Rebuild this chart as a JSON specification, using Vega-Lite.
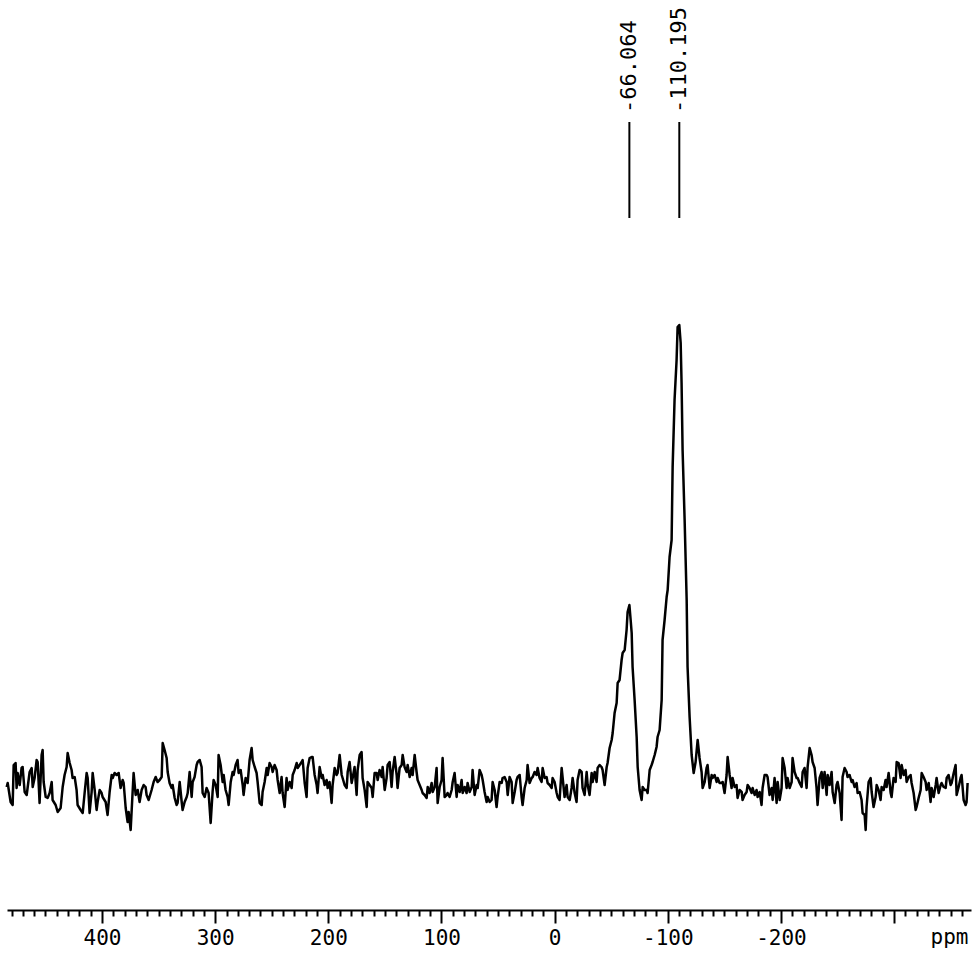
{
"$schema":"https://vega.github.io/schema/vega-lite/v6.json",
"width":964,"height":910,
"autosize":{"type":"none"},
"padding":{"left":7,"top":0,"right":8,"bottom":45},
"background":"white",
"config":{"view":{"stroke":null}},
"datasets":{
"spec":[
{"p":484.3,"i":3},{"p":483.4,"i":7},{"p":480.8,"i":-12},{"p":479.0,"i":-15},{"p":478.1,"i":25},{"p":476.4,"i":27},{"p":475.5,"i":2},{"p":474.6,"i":17},{"p":472.8,"i":5},{"p":471.1,"i":22},{"p":470.2,"i":23},{"p":468.4,"i":-2},{"p":466.6,"i":-5},{"p":465.8,"i":2},{"p":464.0,"i":18},{"p":462.2,"i":22},{"p":461.3,"i":3},{"p":459.6,"i":12},{"p":457.8,"i":30},{"p":456.9,"i":28},{"p":455.2,"i":-13},{"p":453.4,"i":35},{"p":452.5,"i":40},{"p":451.6,"i":8},{"p":449.8,"i":-7},{"p":448.1,"i":-8},{"p":446.3,"i":-3},{"p":444.5,"i":8},{"p":443.7,"i":-10},{"p":441.0,"i":-15},{"p":439.2,"i":-22},{"p":436.6,"i":-18},{"p":434.8,"i":3},{"p":433.1,"i":15},{"p":431.3,"i":23},{"p":430.4,"i":37},{"p":428.6,"i":27},{"p":426.9,"i":20},{"p":426.0,"i":12},{"p":424.2,"i":13},{"p":422.5,"i":0},{"p":421.6,"i":-15},{"p":418.9,"i":-20},{"p":417.1,"i":-23},{"p":415.4,"i":-3},{"p":413.6,"i":17},{"p":412.7,"i":12},{"p":411.0,"i":-23},{"p":409.2,"i":-2},{"p":408.3,"i":17},{"p":406.5,"i":0},{"p":404.8,"i":-20},{"p":403.9,"i":-12},{"p":402.1,"i":0},{"p":400.4,"i":-3},{"p":399.5,"i":-7},{"p":396.8,"i":-12},{"p":395.1,"i":-25},{"p":393.3,"i":-2},{"p":391.5,"i":15},{"p":390.6,"i":12},{"p":388.9,"i":17},{"p":387.1,"i":15},{"p":385.3,"i":17},{"p":383.6,"i":2},{"p":381.8,"i":10},{"p":380.9,"i":7},{"p":379.1,"i":-18},{"p":377.4,"i":-32},{"p":376.5,"i":-22},{"p":374.7,"i":-40},{"p":373.8,"i":-20},{"p":372.1,"i":17},{"p":370.3,"i":-5},{"p":368.5,"i":0},{"p":366.8,"i":-12},{"p":365.0,"i":0},{"p":363.2,"i":5},{"p":361.5,"i":3},{"p":360.6,"i":-5},{"p":358.8,"i":-10},{"p":356.2,"i":0},{"p":354.4,"i":8},{"p":352.6,"i":13},{"p":350.9,"i":8},{"p":349.1,"i":10},{"p":347.3,"i":13},{"p":346.4,"i":47},{"p":344.7,"i":40},{"p":342.9,"i":32},{"p":342.0,"i":18},{"p":340.3,"i":7},{"p":338.5,"i":2},{"p":337.6,"i":5},{"p":335.8,"i":-8},{"p":334.1,"i":-15},{"p":333.2,"i":-13},{"p":331.4,"i":8},{"p":329.6,"i":-12},{"p":328.8,"i":-20},{"p":327.0,"i":-12},{"p":325.2,"i":-7},{"p":324.3,"i":-3},{"p":322.6,"i":18},{"p":320.8,"i":-7},{"p":319.9,"i":8},{"p":318.2,"i":13},{"p":316.4,"i":25},{"p":315.5,"i":28},{"p":313.7,"i":30},{"p":312.0,"i":23},{"p":311.1,"i":-3},{"p":309.3,"i":-7},{"p":307.6,"i":2},{"p":305.8,"i":-3},{"p":304.0,"i":-33},{"p":302.3,"i":-2},{"p":301.4,"i":10},{"p":299.6,"i":5},{"p":297.8,"i":-7},{"p":297.0,"i":35},{"p":295.2,"i":25},{"p":293.4,"i":8},{"p":292.5,"i":15},{"p":290.8,"i":0},{"p":289.0,"i":-7},{"p":288.1,"i":-15},{"p":286.3,"i":8},{"p":284.6,"i":18},{"p":283.7,"i":15},{"p":281.9,"i":25},{"p":280.2,"i":30},{"p":279.3,"i":17},{"p":277.5,"i":20},{"p":275.7,"i":5},{"p":274.9,"i":-5},{"p":273.1,"i":12},{"p":271.3,"i":7},{"p":269.6,"i":30},{"p":267.8,"i":42},{"p":266.9,"i":30},{"p":265.1,"i":23},{"p":263.4,"i":17},{"p":262.5,"i":8},{"p":260.7,"i":-13},{"p":258.9,"i":-15},{"p":258.1,"i":-2},{"p":256.3,"i":8},{"p":254.5,"i":22},{"p":253.6,"i":15},{"p":251.9,"i":27},{"p":250.1,"i":23},{"p":249.2,"i":18},{"p":247.5,"i":25},{"p":245.7,"i":20},{"p":244.8,"i":10},{"p":243.0,"i":-3},{"p":241.3,"i":13},{"p":240.4,"i":-3},{"p":238.6,"i":-17},{"p":236.9,"i":12},{"p":236.0,"i":0},{"p":234.2,"i":8},{"p":232.4,"i":2},{"p":231.5,"i":15},{"p":229.8,"i":20},{"p":228.0,"i":27},{"p":227.1,"i":22},{"p":225.4,"i":25},{"p":223.6,"i":28},{"p":222.7,"i":30},{"p":220.9,"i":7},{"p":219.2,"i":-7},{"p":218.3,"i":22},{"p":216.5,"i":32},{"p":214.8,"i":33},{"p":213.9,"i":33},{"p":212.1,"i":15},{"p":210.3,"i":5},{"p":209.5,"i":-3},{"p":207.7,"i":23},{"p":205.9,"i":12},{"p":205.0,"i":15},{"p":203.3,"i":5},{"p":201.5,"i":10},{"p":200.6,"i":2},{"p":198.9,"i":8},{"p":197.1,"i":-13},{"p":196.2,"i":5},{"p":194.4,"i":22},{"p":192.7,"i":15},{"p":191.8,"i":17},{"p":190.0,"i":35},{"p":188.2,"i":15},{"p":187.4,"i":12},{"p":185.6,"i":5},{"p":183.8,"i":2},{"p":182.9,"i":18},{"p":181.2,"i":28},{"p":179.4,"i":7},{"p":178.5,"i":12},{"p":176.8,"i":23},{"p":175.0,"i":-5},{"p":174.1,"i":20},{"p":172.3,"i":35},{"p":170.6,"i":38},{"p":169.7,"i":12},{"p":167.9,"i":0},{"p":166.1,"i":-17},{"p":165.3,"i":8},{"p":163.5,"i":5},{"p":161.7,"i":2},{"p":160.8,"i":-7},{"p":159.1,"i":17},{"p":157.3,"i":17},{"p":156.4,"i":10},{"p":154.7,"i":20},{"p":152.9,"i":13},{"p":152.0,"i":23},{"p":150.2,"i":0},{"p":148.5,"i":12},{"p":147.6,"i":25},{"p":145.8,"i":28},{"p":144.1,"i":3},{"p":143.2,"i":18},{"p":141.4,"i":33},{"p":139.6,"i":15},{"p":138.8,"i":2},{"p":137.0,"i":22},{"p":135.2,"i":25},{"p":134.3,"i":35},{"p":132.6,"i":23},{"p":130.8,"i":18},{"p":129.9,"i":25},{"p":128.1,"i":13},{"p":126.4,"i":22},{"p":125.5,"i":15},{"p":123.7,"i":35},{"p":122.0,"i":18},{"p":121.1,"i":10},{"p":119.3,"i":5},{"p":117.5,"i":0},{"p":116.7,"i":-3},{"p":114.9,"i":-5},{"p":113.1,"i":-8},{"p":112.2,"i":3},{"p":110.5,"i":-3},{"p":108.7,"i":7},{"p":107.8,"i":-2},{"p":106.0,"i":3},{"p":104.3,"i":22},{"p":103.4,"i":-13},{"p":101.6,"i":3},{"p":99.9,"i":10},{"p":99.0,"i":32},{"p":97.2,"i":-7},{"p":95.4,"i":-5},{"p":94.6,"i":-3},{"p":92.8,"i":-7},{"p":91.0,"i":0},{"p":90.1,"i":8},{"p":88.4,"i":17},{"p":86.6,"i":-7},{"p":85.7,"i":5},{"p":83.9,"i":-2},{"p":82.2,"i":10},{"p":81.3,"i":-3},{"p":79.5,"i":3},{"p":77.8,"i":-3},{"p":76.9,"i":7},{"p":75.1,"i":-2},{"p":73.3,"i":3},{"p":72.5,"i":20},{"p":70.7,"i":-5},{"p":68.9,"i":5},{"p":68.0,"i":2},{"p":66.3,"i":20},{"p":64.5,"i":15},{"p":63.6,"i":10},{"p":61.9,"i":-2},{"p":60.1,"i":-12},{"p":59.2,"i":-7},{"p":57.4,"i":-12},{"p":55.7,"i":-10},{"p":54.8,"i":8},{"p":53.0,"i":0},{"p":51.3,"i":-17},{"p":50.4,"i":-7},{"p":48.6,"i":8},{"p":46.8,"i":7},{"p":46.0,"i":12},{"p":44.2,"i":13},{"p":42.4,"i":8},{"p":41.5,"i":-5},{"p":39.8,"i":13},{"p":38.0,"i":8},{"p":37.1,"i":-13},{"p":35.3,"i":-2},{"p":33.6,"i":10},{"p":32.7,"i":13},{"p":30.9,"i":15},{"p":29.2,"i":-7},{"p":28.3,"i":-15},{"p":26.5,"i":2},{"p":24.7,"i":10},{"p":23.9,"i":25},{"p":22.1,"i":7},{"p":20.3,"i":12},{"p":19.4,"i":13},{"p":17.7,"i":18},{"p":15.9,"i":15},{"p":15.0,"i":22},{"p":13.3,"i":12},{"p":11.5,"i":8},{"p":10.6,"i":22},{"p":8.8,"i":12},{"p":7.1,"i":13},{"p":6.2,"i":7},{"p":4.4,"i":5},{"p":2.6,"i":2},{"p":1.8,"i":12},{"p":0.0,"i":8},{"p":-1.8,"i":-3},{"p":-2.7,"i":-7},{"p":-4.4,"i":-10},{"p":-6.2,"i":22},{"p":-7.1,"i":12},{"p":-8.8,"i":-7},{"p":-10.6,"i":5},{"p":-11.5,"i":-7},{"p":-13.3,"i":-10},{"p":-15.0,"i":2},{"p":-15.9,"i":12},{"p":-17.7,"i":-3},{"p":-19.4,"i":-12},{"p":-20.3,"i":10},{"p":-22.1,"i":20},{"p":-23.9,"i":18},{"p":-24.7,"i":2},{"p":-26.5,"i":-5},{"p":-28.3,"i":18},{"p":-29.2,"i":5},{"p":-30.9,"i":-5},{"p":-32.7,"i":17},{"p":-33.6,"i":8},{"p":-35.4,"i":18},{"p":-37.1,"i":8},{"p":-38.0,"i":22},{"p":-39.8,"i":25},{"p":-41.5,"i":23},{"p":-42.4,"i":20},{"p":-44.2,"i":5},{"p":-46.0,"i":23},{"p":-46.8,"i":27},{"p":-48.6,"i":42},{"p":-50.4,"i":50},{"p":-51.3,"i":57},{"p":-53.0,"i":77},{"p":-54.8,"i":87},{"p":-55.7,"i":107},{"p":-57.4,"i":110},{"p":-59.2,"i":130},{"p":-60.1,"i":137},{"p":-61.9,"i":140},{"p":-63.6,"i":160},{"p":-64.5,"i":178},{"p":-66.1,"i":185},{"p":-67.2,"i":170},{"p":-68.1,"i":157},{"p":-68.9,"i":123},{"p":-70.7,"i":90},{"p":-72.5,"i":53},{"p":-73.4,"i":23},{"p":-75.1,"i":0},{"p":-76.9,"i":-10},{"p":-77.8,"i":3},{"p":-79.5,"i":0},{"p":-81.3,"i":0},{"p":-82.2,"i":-3},{"p":-84.0,"i":20},{"p":-85.7,"i":25},{"p":-86.6,"i":28},{"p":-88.4,"i":35},{"p":-90.1,"i":43},{"p":-91.0,"i":53},{"p":-92.8,"i":60},{"p":-94.6,"i":90},{"p":-95.4,"i":150},{"p":-97.2,"i":170},{"p":-99.0,"i":193},{"p":-99.9,"i":200},{"p":-101.6,"i":233},{"p":-103.4,"i":250},{"p":-104.3,"i":323},{"p":-106.0,"i":390},{"p":-107.8,"i":430},{"p":-108.7,"i":463},{"p":-110.2,"i":465},{"p":-111.4,"i":447},{"p":-112.2,"i":407},{"p":-113.1,"i":340},{"p":-114.9,"i":270},{"p":-116.7,"i":190},{"p":-117.5,"i":123},{"p":-119.3,"i":73},{"p":-121.1,"i":35},{"p":-122.9,"i":17},{"p":-124.6,"i":28},{"p":-126.4,"i":50},{"p":-128.1,"i":32},{"p":-129.9,"i":18},{"p":-130.8,"i":2},{"p":-132.6,"i":8},{"p":-134.3,"i":22},{"p":-135.2,"i":25},{"p":-137.0,"i":2},{"p":-138.8,"i":15},{"p":-139.6,"i":12},{"p":-141.4,"i":15},{"p":-143.2,"i":8},{"p":-144.1,"i":12},{"p":-145.8,"i":7},{"p":-147.6,"i":7},{"p":-148.5,"i":8},{"p":-150.2,"i":-3},{"p":-152.0,"i":15},{"p":-152.9,"i":33},{"p":-154.7,"i":15},{"p":-156.4,"i":2},{"p":-157.3,"i":12},{"p":-159.1,"i":3},{"p":-160.8,"i":5},{"p":-161.7,"i":-8},{"p":-163.5,"i":0},{"p":-165.3,"i":-2},{"p":-166.1,"i":-10},{"p":-167.9,"i":-5},{"p":-169.7,"i":-2},{"p":-170.6,"i":5},{"p":-172.3,"i":2},{"p":-174.1,"i":-3},{"p":-175.0,"i":2},{"p":-176.8,"i":-5},{"p":-178.5,"i":0},{"p":-179.4,"i":-7},{"p":-181.2,"i":-2},{"p":-182.9,"i":-15},{"p":-183.8,"i":2},{"p":-185.6,"i":15},{"p":-187.4,"i":15},{"p":-188.2,"i":13},{"p":-190.0,"i":-5},{"p":-191.8,"i":2},{"p":-192.7,"i":-10},{"p":-194.4,"i":12},{"p":-196.2,"i":-13},{"p":-197.1,"i":8},{"p":-198.9,"i":-10},{"p":-200.6,"i":2},{"p":-201.5,"i":32},{"p":-203.3,"i":22},{"p":-205.0,"i":2},{"p":-205.9,"i":12},{"p":-207.7,"i":2},{"p":-209.5,"i":8},{"p":-210.3,"i":32},{"p":-212.1,"i":18},{"p":-213.9,"i":12},{"p":-214.8,"i":12},{"p":-216.5,"i":7},{"p":-218.3,"i":3},{"p":-219.2,"i":18},{"p":-220.9,"i":22},{"p":-222.7,"i":2},{"p":-223.6,"i":23},{"p":-225.4,"i":42},{"p":-227.1,"i":35},{"p":-228.0,"i":28},{"p":-229.8,"i":22},{"p":-231.5,"i":2},{"p":-232.4,"i":-15},{"p":-234.2,"i":12},{"p":-236.0,"i":18},{"p":-236.9,"i":2},{"p":-238.6,"i":18},{"p":-240.4,"i":-5},{"p":-241.3,"i":15},{"p":-243.0,"i":5},{"p":-244.8,"i":18},{"p":-245.7,"i":-2},{"p":-247.5,"i":-13},{"p":-249.2,"i":5},{"p":-250.1,"i":8},{"p":-251.9,"i":-3},{"p":-253.6,"i":-30},{"p":-254.5,"i":13},{"p":-256.3,"i":22},{"p":-258.1,"i":18},{"p":-258.9,"i":13},{"p":-260.7,"i":15},{"p":-262.5,"i":8},{"p":-263.4,"i":10},{"p":-265.1,"i":3},{"p":-266.9,"i":7},{"p":-267.8,"i":-3},{"p":-269.6,"i":-2},{"p":-271.3,"i":-10},{"p":-272.2,"i":-23},{"p":-274.0,"i":-25},{"p":-274.9,"i":-40},{"p":-275.7,"i":-17},{"p":-277.5,"i":8},{"p":-279.3,"i":12},{"p":-280.2,"i":-2},{"p":-281.9,"i":-17},{"p":-283.7,"i":-7},{"p":-284.6,"i":5},{"p":-286.3,"i":0},{"p":-288.1,"i":-10},{"p":-289.0,"i":3},{"p":-290.8,"i":0},{"p":-292.5,"i":10},{"p":-293.4,"i":3},{"p":-295.2,"i":17},{"p":-297.0,"i":-3},{"p":-297.8,"i":-7},{"p":-299.6,"i":12},{"p":-301.4,"i":8},{"p":-302.3,"i":28},{"p":-304.0,"i":27},{"p":-305.8,"i":12},{"p":-306.7,"i":25},{"p":-308.5,"i":15},{"p":-310.2,"i":20},{"p":-311.1,"i":8},{"p":-312.9,"i":13},{"p":-314.6,"i":15},{"p":-315.5,"i":7},{"p":-317.3,"i":-3},{"p":-319.1,"i":-20},{"p":-319.9,"i":-17},{"p":-321.7,"i":-8},{"p":-323.5,"i":0},{"p":-324.4,"i":17},{"p":-326.1,"i":13},{"p":-327.9,"i":8},{"p":-328.8,"i":0},{"p":-330.6,"i":7},{"p":-332.3,"i":-12},{"p":-333.2,"i":2},{"p":-335.0,"i":-7},{"p":-336.8,"i":5},{"p":-337.6,"i":12},{"p":-339.4,"i":-3},{"p":-341.2,"i":5},{"p":-342.0,"i":7},{"p":-343.8,"i":3},{"p":-345.6,"i":2},{"p":-346.5,"i":12},{"p":-348.2,"i":15},{"p":-350.0,"i":5},{"p":-350.9,"i":7},{"p":-352.7,"i":17},{"p":-354.4,"i":25},{"p":-355.3,"i":-5},{"p":-357.1,"i":3},{"p":-358.8,"i":12},{"p":-359.7,"i":15},{"p":-361.5,"i":-10},{"p":-363.2,"i":-15},{"p":-364.1,"i":-12},{"p":-365.0,"i":7}
],
"peaks":[{"p":-66.064,"label":"-66.064"},{"p":-110.195,"label":"-110.195"}]
},
"layer":[
{
"data":{"name":"spec"},
"mark":{"type":"line","color":"black","strokeWidth":2.5,"strokeJoin":"round"},
"encoding":{
"x":{"field":"p","type":"quantitative","title":"ppm",
"scale":{"domain":[484,-368],"nice":false,"zero":false},
"axis":{
"values":[480,470,460,450,440,430,420,410,400,390,380,370,360,350,340,330,320,310,300,290,280,270,260,250,240,230,220,210,200,190,180,170,160,150,140,130,120,110,100,90,80,70,60,50,40,30,20,10,0,-10,-20,-30,-40,-50,-60,-70,-80,-90,-100,-110,-120,-130,-140,-150,-160,-170,-180,-190,-200,-210,-220,-230,-240,-250,-260,-270,-280,-290,-300,-310,-320,-330,-340,-350,-360],
"tickCount":1000,
"grid":false,
"domainColor":"black","domainWidth":2,
"tickColor":"black","tickWidth":2,
"tickSize":{"condition":{"test":"datum.value % 100 === 0","value":13},"value":6},
"labelExpr":"datum.value % 100 === 0 && datum.value > -300 ? toString(datum.value) : ''",
"labelFont":"DejaVu Sans Mono","labelFontSize":21,"labelColor":"black","labelPadding":4,
"labelFlush":false,"labelOverlap":false,
"titleFont":"DejaVu Sans Mono","titleFontSize":21,"titleFontWeight":"normal","titleColor":"black",
"titleX":942,"titleY":27,"titleBaseline":"middle","titleAlign":"center","titleAngle":0
}},
"y":{"field":"i","type":"quantitative","scale":{"domain":[-120,790],"nice":false,"zero":false},"axis":null}
}
},
{
"data":{"name":"peaks"},
"mark":{"type":"rule","color":"black","strokeWidth":2},
"encoding":{
"x":{"field":"p","type":"quantitative","title":"ppm"},
"y":{"datum":572,"axis":null},
"y2":{"datum":668}
}
},
{
"data":{"name":"peaks"},
"mark":{"type":"text","angle":270,"align":"left","baseline":"middle","font":"DejaVu Sans Mono","fontSize":22,"color":"black"},
"encoding":{
"x":{"field":"p","type":"quantitative","title":"ppm"},
"y":{"datum":677,"axis":null},
"text":{"field":"label"}
}
}
]
}
